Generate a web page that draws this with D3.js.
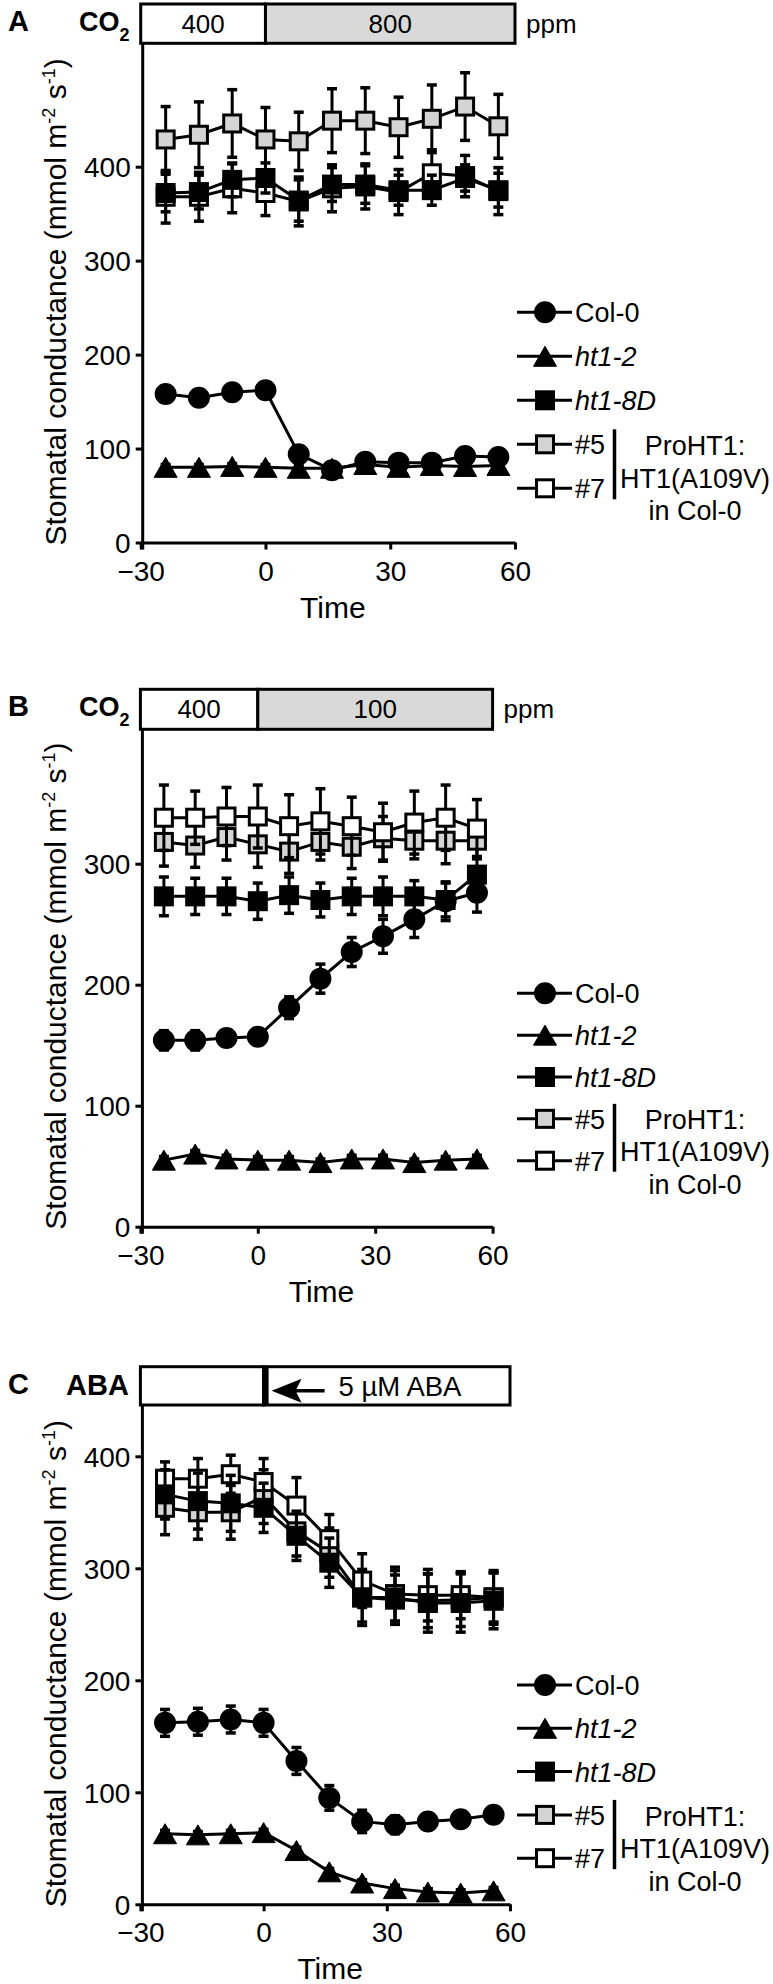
<!DOCTYPE html>
<html><head><meta charset="utf-8">
<script src="https://cdn.jsdelivr.net/npm/d3@7"></script>
<style>
html,body{margin:0;padding:0;background:#fff;}
svg{display:block;}
text{font-family:"Liberation Sans",Arial,Helvetica,sans-serif;fill:#000;}
</style></head>
<body>
<svg id="chart" width="773" height="1984"></svg>
<script>
// ---------------- DATA ----------------
const times = [-24, -16, -8, 0, 8, 16, 24, 32, 40, 48, 56];
const xTicks = [-30, 0, 30, 60];
const seriesNames = ["Col-0", "ht1-2", "ht1-8D", "#5", "#7"];
const legendGroupLines = ["ProHT1:", "HT1(A109V)", "in Col-0"];

// Panel A: CO2 400 -> 800 ppm
const aYTicks = [0, 100, 200, 300, 400];
const aBarLabels = ["400", "800"];
const aCol0 = [158, 154, 160, 162, 94, 77, 86, 85, 85, 92, 91];
const aCol0Err = [5, 5, 5, 5, 5, 4, 4, 4, 4, 5, 5];
const aHt12 = [80, 80, 81, 80, 79, 79, 83, 80, 82, 81, 82];
const aHt12Err = [3, 3, 3, 3, 3, 3, 3, 3, 3, 3, 3];
const aHt18D = [372, 373, 386, 388, 364, 381, 381, 375, 375, 388, 375];
const aHt18DErr = [20, 18, 18, 16, 22, 18, 20, 16, 16, 14, 18];
const a5 = [429, 434, 446, 429, 427, 449, 449, 442, 451, 464, 443];
const a5Err = [35, 35, 36, 34, 31, 34, 35, 32, 36, 36, 34];
const a7 = [368, 368, 377, 372, 363, 377, 379, 373, 393, 390, 374];
const a7Err = [28, 26, 26, 24, 26, 25, 24, 24, 25, 22, 25];

// Panel B: CO2 400 -> 100 ppm
const bYTicks = [0, 100, 200, 300];
const bBarLabels = ["400", "100"];
const bCol0 = [154, 154, 156, 157, 181, 205, 227, 240, 254, 269, 276];
const bCol0Err = [8, 8, 6, 6, 9, 12, 12, 14, 15, 16, 16];
const bHt12 = [55, 60, 56, 55, 55, 53, 56, 56, 53, 55, 56];
const bHt12Err = [3, 3, 3, 3, 3, 3, 3, 3, 3, 3, 3];
const bHt18D = [273, 273, 273, 269, 274, 270, 273, 273, 273, 270, 291];
const bHt18DErr = [16, 15, 15, 15, 15, 14, 15, 16, 13, 14, 15];
const b5 = [318, 315, 322, 316, 310, 318, 314, 321, 319, 319, 319];
const b5Err = [20, 18, 19, 19, 18, 15, 18, 18, 15, 19, 15];
const b7 = [338, 338, 339, 339, 331, 335, 331, 326, 334, 338, 329];
const b7Err = [27, 22, 24, 26, 26, 27, 24, 24, 26, 27, 24];

// Panel C: 5 µM ABA
const cYTicks = [0, 100, 200, 300, 400];
const cBarLabels = ["", "5 µM ABA"];
const cCol0 = [162, 163, 165, 162, 128, 95, 74, 71, 74, 76, 80];
const cCol0Err = [12, 12, 12, 12, 12, 11, 10, 8, 6, 6, 5];
const cHt12 = [63, 62, 63, 64, 48, 29, 19, 14, 11, 10, 12];
const cHt12Err = [3, 3, 3, 3, 3, 3, 3, 3, 3, 3, 3];
const cHt18D = [366, 360, 358, 354, 329, 305, 274, 274, 269, 269, 271];
const cHt18DErr = [22, 25, 25, 22, 22, 22, 25, 24, 26, 26, 25];
const c5 = [354, 350, 350, 364, 333, 314, 274, 272, 271, 272, 274];
const c5Err = [24, 24, 24, 24, 22, 22, 22, 22, 24, 24, 24];
const c7 = [380, 380, 384, 377, 356, 326, 289, 277, 276, 276, 274];
const c7Err = [15, 18, 17, 21, 25, 22, 24, 24, 23, 21, 22];

// ---------------- STYLE / LAYOUT ----------------
const styles = {
  "Col-0": {shape: "circle", fill: "#000"},
  "ht1-2": {shape: "triangle", fill: "#000", italic: true},
  "ht1-8D": {shape: "square", fill: "#000", italic: true},
  "#5": {shape: "square", fill: "#d4d4d4"},
  "#7": {shape: "square", fill: "#fff"}
};
const drawOrder = ["#5", "#7", "ht1-8D", "ht1-2", "Col-0"];

const panels = [
  {letter: "A", treat: "CO2", barLabels: aBarLabels, barFills: ["#fff", "#d9d9d9"], ppm: true,
   yTicks: aYTicks, xr: [140.7, 515], y0: 542.5, y400: 166.7, barTop: 4, barBot: 43.3,
   legendTop: 312.3, legendStep: 44,
   data: {"Col-0": [aCol0, aCol0Err], "ht1-2": [aHt12, aHt12Err], "ht1-8D": [aHt18D, aHt18DErr], "#5": [a5, a5Err], "#7": [a7, a7Err]}},
  {letter: "B", treat: "CO2", barLabels: bBarLabels, barFills: ["#fff", "#d9d9d9"], ppm: true,
   yTicks: bYTicks, xr: [140.4, 492.6], y0: 1226.7, y400: 1226.7 - 4 * 121, barTop: 689.3, barBot: 729.3,
   legendTop: 993.3, legendStep: 41.85,
   data: {"Col-0": [bCol0, bCol0Err], "ht1-2": [bHt12, bHt12Err], "ht1-8D": [bHt18D, bHt18DErr], "#5": [b5, b5Err], "#7": [b7, b7Err]}},
  {letter: "C", treat: "ABA", barLabels: cBarLabels, barFills: ["#fff", "#fff"], ppm: false,
   yTicks: cYTicks, xr: [140.4, 510], y0: 1904.3, y400: 1904.3 - 4 * 112, barTop: 1366.7, barBot: 1405,
   legendTop: 1685, legendStep: 43.3,
   data: {"Col-0": [cCol0, cCol0Err], "ht1-2": [cHt12, cHt12Err], "ht1-8D": [cHt18D, cHt18DErr], "#5": [c5, c5Err], "#7": [c7, c7Err]}}
];

const svg = d3.select("#chart");

function symbol(g, shape, fill, cx, cy) {
  if (shape === "circle") {
    g.append("circle").attr("cx", cx).attr("cy", cy).attr("r", 10)
      .attr("fill", fill).attr("stroke", "#000").attr("stroke-width", 2);
  } else if (shape === "square") {
    g.append("rect").attr("x", cx - 8.5).attr("y", cy - 8.5).attr("width", 17).attr("height", 17)
      .attr("fill", fill).attr("stroke", "#000").attr("stroke-width", 3);
  } else {
    const w = 23, h = 20;
    g.append("path").attr("d", `M${cx},${cy - h / 2}L${cx + w / 2},${cy + h / 2}L${cx - w / 2},${cy + h / 2}Z`)
      .attr("fill", fill).attr("stroke", "#000").attr("stroke-width", 1);
  }
}

panels.forEach(p => {
  const g = svg.append("g");
  const x = d3.scaleLinear().domain([-30, 60]).range(p.xr);
  const y = d3.scaleLinear().domain([0, 400]).range([p.y0, p.y400]);

  // treatment bar
  const segs = [[-30, 0], [0, 60]];
  segs.forEach((s, i) => {
    g.append("rect").attr("x", x(s[0])).attr("y", p.barTop)
      .attr("width", x(s[1]) - x(s[0])).attr("height", p.barBot - p.barTop)
      .attr("fill", p.barFills[i]).attr("stroke", "#000").attr("stroke-width", 3);
  });
  if (p.treat === "ABA") {
    g.append("line").attr("x1", x(0) + 2).attr("x2", x(0) + 2).attr("y1", p.barTop).attr("y2", p.barBot)
      .attr("stroke", "#000").attr("stroke-width", 6);
    // arrow + label
    const ay = (p.barTop + p.barBot) / 2 + 5;
    const ax = x(0) + 8;
    g.append("line").attr("x1", ax + 20).attr("x2", ax + 53).attr("y1", ay).attr("y2", ay)
      .attr("stroke", "#000").attr("stroke-width", 3.5);
    g.append("path").attr("d", `M${ax},${ay}L${ax + 30},${ay - 12}L${ax + 24},${ay}L${ax + 30},${ay + 12}Z`).attr("fill", "#000");
    g.append("text").attr("x", ax + 67).attr("y", p.barTop + 29).attr("font-size", 27.5).text(p.barLabels[1]);
  } else {
    segs.forEach((s, i) => {
      g.append("text").attr("x", (x(s[0]) + x(s[1])) / 2).attr("y", p.barTop + 29)
        .attr("text-anchor", "middle").attr("font-size", 26).text(p.barLabels[i]);
    });
  }
  if (p.ppm) {
    g.append("text").attr("x", x(60) + 11).attr("y", p.barTop + 29).attr("font-size", 26).text("ppm");
  }

  // panel letter and treatment label
  g.append("text").attr("x", 8).attr("y", p.barTop + 27).attr("font-size", 29).attr("font-weight", "bold").text(p.letter);
  if (p.treat === "CO2") {
    const t = g.append("text").attr("x", 79).attr("y", p.barTop + 27).attr("font-size", 27).attr("font-weight", "bold");
    t.append("tspan").text("CO");
    t.append("tspan").attr("font-size", 18).attr("dy", 10).text("2");
  } else {
    g.append("text").attr("x", 66).attr("y", p.barTop + 28).attr("font-size", 29).attr("font-weight", "bold").text("ABA");
  }

  // axes
  const yAxis = d3.axisLeft(y).tickValues(p.yTicks).tickSize(7).tickPadding(5).tickFormat(d3.format("d"));
  const ya = g.append("g").attr("transform", `translate(${p.xr[0] + 2},0)`).call(yAxis);
  ya.select(".domain").remove();
  ya.selectAll(".tick line").attr("stroke-width", 3);
  ya.selectAll(".tick text").attr("font-size", 28).attr("dy", "0.36em")
    .style("font-family", '"Liberation Sans",Arial,sans-serif');
  g.append("line").attr("x1", p.xr[0] + 2).attr("x2", p.xr[0] + 2).attr("y1", p.barBot).attr("y2", p.y0 + 7)
    .attr("stroke", "#000").attr("stroke-width", 3);

  const xAxis = d3.axisBottom(x).tickValues(xTicks).tickSize(7).tickSizeOuter(0).tickPadding(6);
  const xa = g.append("g").attr("transform", `translate(0,${p.y0})`).call(xAxis);
  xa.select(".domain").attr("stroke-width", 3);
  xa.selectAll(".tick line").attr("stroke-width", 3);
  xa.selectAll(".tick text").attr("font-size", 28).attr("dy", "0.9em")
    .style("font-family", '"Liberation Sans",Arial,sans-serif');

  // axis titles
  g.append("text").attr("x", (p.xr[0] + p.xr[1]) / 2 + 5).attr("y", p.y0 + 75)
    .attr("text-anchor", "middle").attr("font-size", 30).text("Time");
  const yt = g.append("text").attr("transform", `translate(66,${p.y0 + 3}) rotate(-90)`)
    .attr("font-size", 30).attr("text-anchor", "start");
  yt.append("tspan").text("Stomatal conductance (mmol m");
  yt.append("tspan").attr("font-size", 18).attr("dy", -11).text("-2");
  yt.append("tspan").attr("dy", 11).text(" s");
  yt.append("tspan").attr("font-size", 18).attr("dy", -11).text("-1");
  yt.append("tspan").attr("dy", 11).text(")");

  // series
  const line = d3.line().x((d, i) => x(times[i])).y(d => y(d));
  drawOrder.forEach(name => {
    const [vals, errs] = p.data[name];
    const st = styles[name];
    const sg = g.append("g");
    sg.append("path").attr("d", line(vals)).attr("fill", "none").attr("stroke", "#000").attr("stroke-width", 3);
    vals.forEach((v, i) => {
      const cx = x(times[i]);
      const e = errs[i];
      sg.append("line").attr("x1", cx).attr("x2", cx).attr("y1", y(v - e)).attr("y2", y(v + e))
        .attr("stroke", "#000").attr("stroke-width", 3);
      [v - e, v + e].forEach(w => {
        sg.append("line").attr("x1", cx - 5).attr("x2", cx + 5).attr("y1", y(w)).attr("y2", y(w))
          .attr("stroke", "#000").attr("stroke-width", 3.5);
      });
    });
    vals.forEach((v, i) => symbol(sg, st.shape, st.fill, x(times[i]), y(v)));
  });

  // legend
  const lg = g.append("g");
  seriesNames.forEach((name, i) => {
    const ly = p.legendTop + i * p.legendStep;
    const st = styles[name];
    lg.append("line").attr("x1", 517).attr("x2", 572).attr("y1", ly).attr("y2", ly)
      .attr("stroke", "#000").attr("stroke-width", 3);
    symbol(lg, st.shape, st.fill, 545, ly);
    lg.append("text").attr("x", 575).attr("y", ly + 10).attr("font-size", 27)
      .attr("font-style", st.italic ? "italic" : "normal").text(name);
  });
  const y5 = p.legendTop + 3 * p.legendStep, y7 = p.legendTop + 4 * p.legendStep;
  lg.append("line").attr("x1", 614.5).attr("x2", 614.5).attr("y1", y5 - 15).attr("y2", y7 + 11)
    .attr("stroke", "#000").attr("stroke-width", 3.5);
  const mid = (y5 + y7) / 2;
  legendGroupLines.forEach((t, i) => {
    lg.append("text").attr("x", 695).attr("y", mid - 11 + i * 32.5).attr("text-anchor", "middle")
      .attr("font-size", 27).text(t);
  });
});
</script>
</body></html>
